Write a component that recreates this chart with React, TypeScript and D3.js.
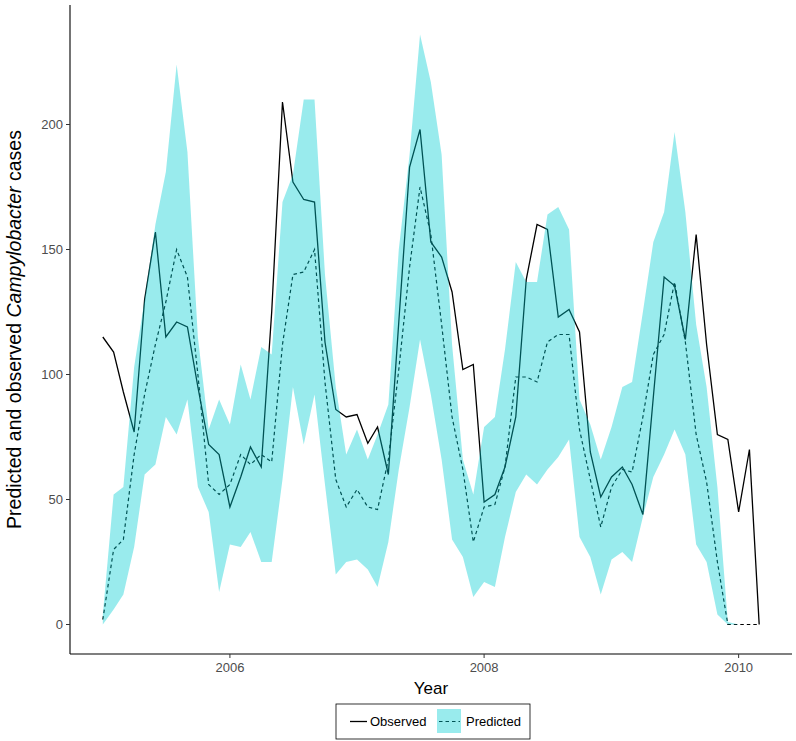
import React from "react";
import * as d3 from "d3";

const months = [
  "2005-01","2005-02","2005-03","2005-04","2005-05","2005-06","2005-07","2005-08","2005-09","2005-10","2005-11","2005-12",
  "2006-01","2006-02","2006-03","2006-04","2006-05","2006-06","2006-07","2006-08","2006-09","2006-10","2006-11","2006-12",
  "2007-01","2007-02","2007-03","2007-04","2007-05","2007-06","2007-07","2007-08","2007-09","2007-10","2007-11","2007-12",
  "2008-01","2008-02","2008-03","2008-04","2008-05","2008-06","2008-07","2008-08","2008-09","2008-10","2008-11","2008-12",
  "2009-01","2009-02","2009-03","2009-04","2009-05","2009-06","2009-07","2009-08","2009-09","2009-10","2009-11","2009-12",
  "2010-01","2010-02","2010-03",
];

const observed = [
  115,109,93,77,130,157,115,121,119,95,
  72,68,47,59,71,63,125,209,177,170,
  169,113,86,83,84,72.5,79,60,121,183,
  198,153,147,133,102,104,49,52,63,83,
  138,160,158,123,126,117,69,51,59,63,
  56,44,91,139,135.5,114,156,112,76,74,
  45,70,0,
];

const predicted = [
  2,30,34,68,92,112,129,150,139,100,
  56,52,56,68,64,68,65,112,140,141,
  150,97,58,47,54,47,46,66,102,143,
  175,156,120,83,62,33,47,48,63,99,
  99,97,113,116,116,78,58,39,55,62,
  61,83,108,116,137,113,76,57,25,0,
  0,0,0,
];

const upper = [
  4,52,55,103,130,160,181,224,189,115,
  78,90,80,104,90,111,108,169,180,210,
  210,140,95,68,78,66,76,88,150,188,
  236,217,188,112,66,52,79,83,110,145,
  137,137,164,167,158,90,80,66,79,95,
  97,125,153,165,197,165,120,95,55,1,
  0,0,0,
];

const lower = [
  0,6,12,31,60,64,83,76,90,55,
  45,13,32,31,37,25,25,58,95,72,
  92,56,20,25,26,22,15,33,62,87,
  114,92,66,34,27,11,17,15,35,53,
  60,56,62,67,74,35,27,12,26,29,
  25,43,59,68,78,68,32,25,4,0,
  0,0,0,
];

const yTicks = [0, 50, 100, 150, 200];
const xTickYears = [2006, 2008, 2010];

const W = 796;
const H = 741;
const FONT = "'Liberation Sans', Arial, sans-serif";
const BAND = "#00CED1";

export default function App() {
  const parse = d3.timeParse("%Y-%m");
  const dates = months.map((m) => parse(m) as Date);
  const rows = dates.map((d, i) => ({
    d,
    obs: observed[i],
    pred: predicted[i],
    lo: lower[i],
    hi: upper[i],
  }));

  const left = 70, right = 792, top = 5, bottom = 654;

  const t0 = dates[0].getTime();
  const t1 = dates[dates.length - 1].getTime();
  const padT = (t1 - t0) * 0.05;
  const x = d3.scaleTime().domain([new Date(t0 - padT), new Date(t1 + padT)]).range([left, right]);

  const yMax = d3.max(upper) as number;
  const yMin = 0;
  const padY = (yMax - yMin) * 0.05;
  const y = d3.scaleLinear().domain([yMin - padY, yMax + padY]).range([bottom, top]);

  const lineObs = d3.line<any>().x((r) => x(r.d)).y((r) => y(r.obs));
  const linePred = d3.line<any>().x((r) => x(r.d)).y((r) => y(r.pred));
  const band = d3.area<any>().x((r) => x(r.d)).y0((r) => y(r.lo)).y1((r) => y(r.hi));

  const xTicks = xTickYears.map((yr) => new Date(yr, 0, 1));

  const lgX = 336, lgY = 704, lgW = 194, lgH = 35;

  return (
    <svg width={W} height={H} style={{ position: "absolute", left: 0, top: 0, background: "#fff" }} fontFamily={FONT}>
      <rect x={0} y={0} width={W} height={H} fill="#fff" />
      <path d={linePred(rows) || ""} fill="none" stroke="#000" strokeWidth={1.2} strokeDasharray="3.5,3" />
      <path d={lineObs(rows) || ""} fill="none" stroke="#000" strokeWidth={1.3} />
      <path d={band(rows) || ""} fill={BAND} fillOpacity={0.4} stroke="none" />

      <line x1={left} x2={left} y1={top} y2={bottom} stroke="#000" strokeWidth={1.1} />
      <line x1={left} x2={right} y1={bottom} y2={bottom} stroke="#000" strokeWidth={1.1} />
      {yTicks.map((t) => (
        <g key={"y" + t}>
          <line x1={left - 4} x2={left} y1={y(t)} y2={y(t)} stroke="#333" strokeWidth={1} />
          <text x={left - 7} y={y(t)} dy="0.35em" textAnchor="end" fontSize={13} fill="#4d4d4d">
            {t}
          </text>
        </g>
      ))}
      {xTicks.map((t, i) => (
        <g key={"x" + i}>
          <line x1={x(t)} x2={x(t)} y1={bottom} y2={bottom + 4} stroke="#333" strokeWidth={1} />
          <text x={x(t)} y={bottom + 18} textAnchor="middle" fontSize={13} fill="#4d4d4d">
            {xTickYears[i]}
          </text>
        </g>
      ))}

      <text x={(left + right) / 2} y={694} textAnchor="middle" fontSize={17} fill="#000">
        Year
      </text>
      <text
        transform={`translate(21,${(top + bottom) / 2}) rotate(-90)`}
        textAnchor="middle"
        fontSize={19.5}
        fill="#000"
      >
        <tspan>Predicted and observed </tspan>
        <tspan fontStyle="italic">Campylobacter</tspan>
        <tspan> cases</tspan>
      </text>

      <rect x={lgX} y={lgY} width={lgW} height={lgH} fill="#fff" stroke="#000" strokeWidth={0.8} />
      <line x1={350} x2={367} y1={lgY + lgH / 2} y2={lgY + lgH / 2} stroke="#000" strokeWidth={1.3} />
      <text x={370} y={lgY + lgH / 2} dy="0.35em" fontSize={13} fill="#000">
        Observed
      </text>
      <line x1={439} x2={460} y1={lgY + lgH / 2} y2={lgY + lgH / 2} stroke="#000" strokeWidth={1.2} strokeDasharray="3.5,3" />
      <rect x={437} y={lgY + 5} width={24} height={24} fill={BAND} fillOpacity={0.4} />
      <text x={466} y={lgY + lgH / 2} dy="0.35em" fontSize={13} fill="#000">
        Predicted
      </text>
    </svg>
  );
}
